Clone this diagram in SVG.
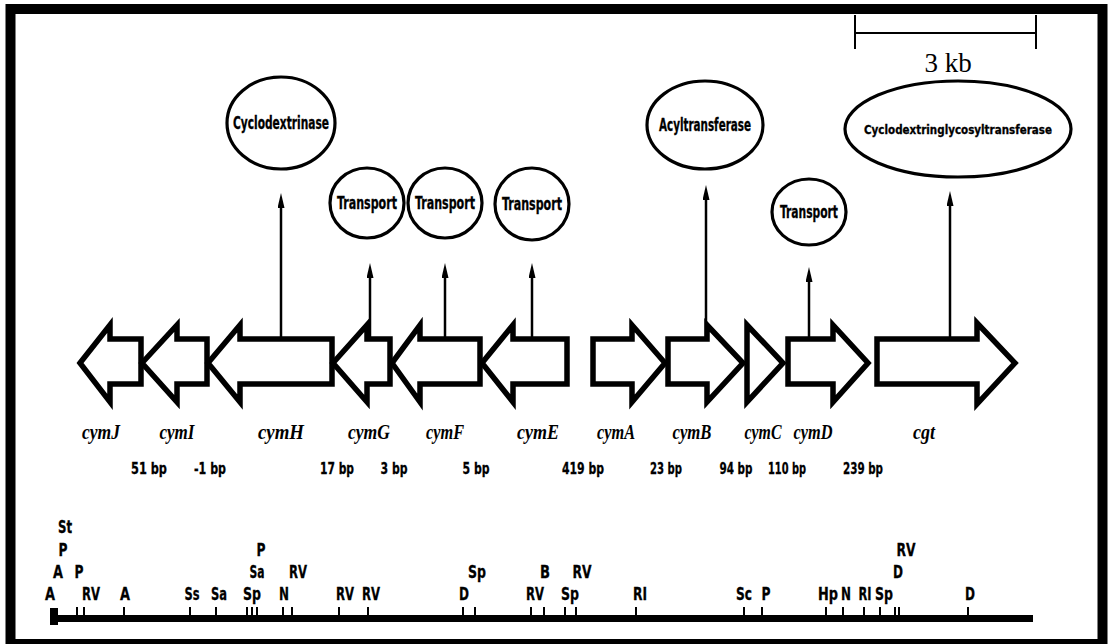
<svg xmlns="http://www.w3.org/2000/svg" width="1109" height="644" viewBox="0 0 1109 644">
<defs>
<marker id="ah" viewBox="0 0 15 7" refX="6" refY="3.5" markerWidth="15" markerHeight="7" markerUnits="userSpaceOnUse" orient="auto">
<path d="M0,0 L15,3.5 L0,7 Z" fill="#000"/>
</marker>
<style>
.bg{fill:#fff}
.frame{fill:none;stroke:#000;stroke-width:10}
.ell{fill:#fff;stroke:#000;stroke-width:3.2}
.etx{font-family:"Liberation Sans Narrow","DejaVu Sans Condensed","Liberation Sans",sans-serif;font-weight:bold;font-size:17px;text-anchor:middle;fill:#000;stroke:#000;stroke-width:0.3}
.gene{fill:#fff;stroke:#000;stroke-width:5.5;stroke-linejoin:miter}
.glab{font-family:"Liberation Serif",serif;font-weight:bold;font-style:italic;font-size:22px;text-anchor:middle;fill:#000}
.bp{font-family:"Liberation Sans Narrow","DejaVu Sans Condensed","Liberation Sans",sans-serif;font-weight:bold;font-size:16px;text-anchor:middle;fill:#000;stroke:#000;stroke-width:0.3}
.site{font-family:"Liberation Sans Narrow","DejaVu Sans Condensed","Liberation Sans",sans-serif;font-weight:bold;font-size:18px;text-anchor:middle;fill:#000;stroke:#000;stroke-width:0.3}
.conn{stroke:#000;stroke-width:2.5;fill:none}
.tick{stroke:#000;stroke-width:2}
.scale{stroke:#000;stroke-width:2;fill:none}
.kb{font-family:"Liberation Serif",serif;font-size:27px;text-anchor:middle;fill:#000}
</style>
</defs>
<rect class="bg" x="0" y="0" width="1109" height="644"/>
<rect class="frame" x="10.5" y="9" width="1092" height="635"/>

<!-- scale bar -->
<g id="scalebar">
<path class="scale" d="M855,15 V49 M855,33 H1036 M1036,15 V49"/>
<text class="kb" x="948" y="72">3 kb</text>
</g>

<!-- protein nodes -->
<g id="p-cyclodextrinase">
<ellipse class="ell" cx="281" cy="123" rx="54" ry="46"/>
<text class="etx" x="281" y="129" textLength="96" lengthAdjust="spacingAndGlyphs">Cyclodextrinase</text>
</g>
<g id="p-transport-g">
<ellipse class="ell" cx="367" cy="203" rx="37" ry="35"/>
<text class="etx" x="367" y="209" textLength="60" lengthAdjust="spacingAndGlyphs">Transport</text>
</g>
<g id="p-transport-f">
<ellipse class="ell" cx="445" cy="203" rx="37" ry="35"/>
<text class="etx" x="445" y="209" textLength="60" lengthAdjust="spacingAndGlyphs">Transport</text>
</g>
<g id="p-transport-e">
<ellipse class="ell" cx="532" cy="204" rx="37" ry="36"/>
<text class="etx" x="532" y="210" textLength="60" lengthAdjust="spacingAndGlyphs">Transport</text>
</g>
<g id="p-acyltransferase">
<ellipse class="ell" cx="705" cy="125" rx="58" ry="44"/>
<text class="etx" x="705" y="131" textLength="92" lengthAdjust="spacingAndGlyphs">Acyltransferase</text>
</g>
<g id="p-transport-d">
<ellipse class="ell" cx="809" cy="212" rx="37" ry="33"/>
<text class="etx" x="809" y="218" textLength="58" lengthAdjust="spacingAndGlyphs">Transport</text>
</g>
<g id="p-cgt">
<ellipse class="ell" cx="958" cy="129" rx="113" ry="48"/>
<text class="etx" x="958" y="134" style="font-size:13px" textLength="188" lengthAdjust="spacingAndGlyphs">Cyclodextringlycosyltransferase</text>
</g>

<!-- connectors -->
<g id="connectors">
<line class="conn" x1="281" y1="337" x2="281" y2="202" marker-end="url(#ah)"/>
<line class="conn" x1="370" y1="337" x2="370" y2="272" marker-end="url(#ah)"/>
<line class="conn" x1="445" y1="337" x2="445" y2="272" marker-end="url(#ah)"/>
<line class="conn" x1="532" y1="337" x2="532" y2="272" marker-end="url(#ah)"/>
<line class="conn" x1="706" y1="337" x2="706" y2="194" marker-end="url(#ah)"/>
<line class="conn" x1="809" y1="338" x2="809" y2="276" marker-end="url(#ah)"/>
<line class="conn" x1="950" y1="338" x2="950" y2="200" marker-end="url(#ah)"/>
</g>

<!-- genes -->
<g id="g-cymJ"><polygon class="gene" points="80,363 110,325 110,339 141,339 141,384 110,384 110,402"/><text class="glab" x="101" y="439" textLength="38" lengthAdjust="spacingAndGlyphs">cymJ</text></g>
<g id="g-cymI"><polygon class="gene" points="142,363 177,325 177,339 207,339 207,384 177,384 177,402"/><text class="glab" x="177" y="439" textLength="35" lengthAdjust="spacingAndGlyphs">cymI</text></g>
<g id="g-cymH"><polygon class="gene" points="208,363 240,325 240,339 332,339 332,384 240,384 240,402"/><text class="glab" x="281" y="439" textLength="46" lengthAdjust="spacingAndGlyphs">cymH</text></g>
<g id="g-cymG"><polygon class="gene" points="333,363 367,325 367,339 390,339 390,384 367,384 367,402"/><text class="glab" x="369" y="439" textLength="42" lengthAdjust="spacingAndGlyphs">cymG</text></g>
<g id="g-cymF"><polygon class="gene" points="392,363 420,325 420,339 480,339 480,384 420,384 420,402"/><text class="glab" x="445" y="439" textLength="38" lengthAdjust="spacingAndGlyphs">cymF</text></g>
<g id="g-cymE"><polygon class="gene" points="482,363 513,325 513,339 567,339 567,384 513,384 513,402"/><text class="glab" x="538" y="439" textLength="42" lengthAdjust="spacingAndGlyphs">cymE</text></g>
<g id="g-cymA"><polygon class="gene" points="593,339 632,339 632,325 665,363 632,402 632,384 593,384"/><text class="glab" x="616" y="439" textLength="38" lengthAdjust="spacingAndGlyphs">cymA</text></g>
<g id="g-cymB"><polygon class="gene" points="668,339 707,339 707,325 743,363 707,402 707,384 668,384"/><text class="glab" x="692" y="439" textLength="39" lengthAdjust="spacingAndGlyphs">cymB</text></g>
<g id="g-cymC"><polygon class="gene" points="747,325 783,363 747,402"/><text class="glab" x="763" y="439" textLength="37" lengthAdjust="spacingAndGlyphs">cymC</text></g>
<g id="g-cymD"><polygon class="gene" points="788,339 833,339 833,325 868,363 833,402 833,384 788,384"/><text class="glab" x="813" y="439" textLength="39" lengthAdjust="spacingAndGlyphs">cymD</text></g>
<g id="g-cgt"><polygon class="gene" points="877,339 977,339 977,323 1015,363 977,404 977,384 877,384"/><text class="glab" x="924" y="439" textLength="22" lengthAdjust="spacingAndGlyphs">cgt</text></g>

<!-- intergenic distances -->
<g id="spacers">
<text class="bp" x="149" y="474" textLength="36" lengthAdjust="spacingAndGlyphs">51 bp</text>
<text class="bp" x="210" y="474" textLength="32" lengthAdjust="spacingAndGlyphs">-1 bp</text>
<text class="bp" x="337" y="474" textLength="34" lengthAdjust="spacingAndGlyphs">17 bp</text>
<text class="bp" x="394" y="474" textLength="27" lengthAdjust="spacingAndGlyphs">3 bp</text>
<text class="bp" x="476" y="474" textLength="27" lengthAdjust="spacingAndGlyphs">5 bp</text>
<text class="bp" x="583" y="474" textLength="42" lengthAdjust="spacingAndGlyphs">419 bp</text>
<text class="bp" x="666" y="474" textLength="32" lengthAdjust="spacingAndGlyphs">23 bp</text>
<text class="bp" x="736" y="474" textLength="33" lengthAdjust="spacingAndGlyphs">94 bp</text>
<text class="bp" x="787" y="474" textLength="38" lengthAdjust="spacingAndGlyphs">110 bp</text>
<text class="bp" x="863" y="474" textLength="40" lengthAdjust="spacingAndGlyphs">239 bp</text>
</g>

<!-- restriction map -->
<g id="restriction-map">
<rect x="50" y="608" width="8" height="17" fill="#000"/>
<line x1="52" y1="618.5" x2="1033" y2="618.5" stroke="#000" stroke-width="7"/>
<path class="tick" d="M77,607V618 M84,607V618 M124,607V618 M190,607V618 M216,607V618 M247,607V618 M252,607V618 M257,607V618 M283,607V618 M292,607V618 M339,607V618 M368,607V618 M463,607V618 M475,607V618 M531,607V618 M544,607V618 M565,607V618 M576,607V618 M636,607V618 M744,607V618 M762,607V618 M826,607V618 M843,607V618 M864,607V618 M880,607V618 M895,607V618 M899,607V618 M968,607V618"/>
<text class="site" x="50" y="600" textLength="10" lengthAdjust="spacingAndGlyphs">A</text>
<text class="site" x="91" y="600" textLength="18" lengthAdjust="spacingAndGlyphs">RV</text>
<text class="site" x="125" y="600" textLength="10" lengthAdjust="spacingAndGlyphs">A</text>
<text class="site" x="192" y="600" textLength="15" lengthAdjust="spacingAndGlyphs">Ss</text>
<text class="site" x="219" y="600" textLength="16" lengthAdjust="spacingAndGlyphs">Sa</text>
<text class="site" x="252" y="600" textLength="18" lengthAdjust="spacingAndGlyphs">Sp</text>
<text class="site" x="284" y="600" textLength="10" lengthAdjust="spacingAndGlyphs">N</text>
<text class="site" x="345" y="600" textLength="18" lengthAdjust="spacingAndGlyphs">RV</text>
<text class="site" x="371" y="600" textLength="18" lengthAdjust="spacingAndGlyphs">RV</text>
<text class="site" x="464" y="600" textLength="10" lengthAdjust="spacingAndGlyphs">D</text>
<text class="site" x="535" y="600" textLength="18" lengthAdjust="spacingAndGlyphs">RV</text>
<text class="site" x="570" y="600" textLength="18" lengthAdjust="spacingAndGlyphs">Sp</text>
<text class="site" x="640" y="600" textLength="14" lengthAdjust="spacingAndGlyphs">RI</text>
<text class="site" x="744" y="600" textLength="16" lengthAdjust="spacingAndGlyphs">Sc</text>
<text class="site" x="766" y="600" textLength="9" lengthAdjust="spacingAndGlyphs">P</text>
<text class="site" x="828" y="600" textLength="20" lengthAdjust="spacingAndGlyphs">Hp</text>
<text class="site" x="846" y="600" textLength="10" lengthAdjust="spacingAndGlyphs">N</text>
<text class="site" x="865" y="600" textLength="13" lengthAdjust="spacingAndGlyphs">RI</text>
<text class="site" x="884" y="600" textLength="18" lengthAdjust="spacingAndGlyphs">Sp</text>
<text class="site" x="970" y="600" textLength="10" lengthAdjust="spacingAndGlyphs">D</text>
<text class="site" x="58" y="578" textLength="10" lengthAdjust="spacingAndGlyphs">A</text>
<text class="site" x="79" y="578" textLength="9" lengthAdjust="spacingAndGlyphs">P</text>
<text class="site" x="257" y="578" textLength="15" lengthAdjust="spacingAndGlyphs">Sa</text>
<text class="site" x="298" y="578" textLength="18" lengthAdjust="spacingAndGlyphs">RV</text>
<text class="site" x="477" y="578" textLength="18" lengthAdjust="spacingAndGlyphs">Sp</text>
<text class="site" x="545" y="578" textLength="10" lengthAdjust="spacingAndGlyphs">B</text>
<text class="site" x="582" y="578" textLength="19" lengthAdjust="spacingAndGlyphs">RV</text>
<text class="site" x="898" y="578" textLength="10" lengthAdjust="spacingAndGlyphs">D</text>
<text class="site" x="63" y="556" textLength="9" lengthAdjust="spacingAndGlyphs">P</text>
<text class="site" x="261" y="556" textLength="9" lengthAdjust="spacingAndGlyphs">P</text>
<text class="site" x="906" y="556" textLength="19" lengthAdjust="spacingAndGlyphs">RV</text>
<text class="site" x="65" y="533" textLength="14" lengthAdjust="spacingAndGlyphs">St</text>
</g>
</svg>
